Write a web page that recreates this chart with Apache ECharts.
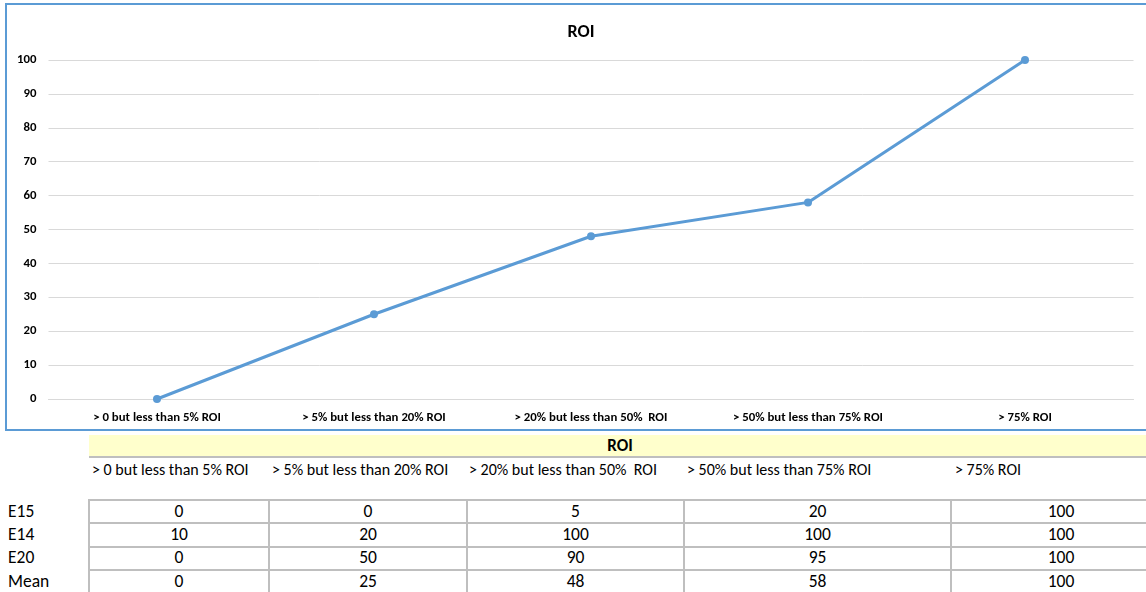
<!DOCTYPE html>
<html>
<head>
<meta charset="utf-8">
<script src="https://cdn.jsdelivr.net/npm/echarts@6/dist/echarts.min.js"></script>
<style>
  html, body { margin: 0; padding: 0; background: #fff; overflow: hidden; width: 1146px; height: 592px; }
  body { position: relative; font-family: Carlito, Lato, "Open Sans", sans-serif; color: #000; }
  #frame { position: absolute; left: 5px; top: 3px; width: 1152px; height: 428px; border: 2px solid #5b9bd5; box-sizing: border-box; }
  #chart { position: absolute; left: 7px; top: 5px; width: 1148px; height: 424px; }
  .cell { position: absolute; line-height: 1; white-space: pre; }
  #roiHead { position: absolute; left: 89px; top: 435px; width: 1070px; height: 23px; background: #ffffcc; border-bottom: 2px solid #bfbfbf; box-sizing: border-box; }
  #roiHead span { position: absolute; left: 0; width: 1062px; top: 2px; text-align: center; font-weight: bold; font-size: 17px; line-height: 1; }
  table { position: absolute; left: 0; top: 499px; width: 1171px; border-collapse: collapse; table-layout: fixed; }
  td { height: 21.3px; padding: 0; font-size: 17.5px; line-height: 1; text-align: center; border: 2px solid #bfbfbf; }
  td.name { text-align: left; padding-left: 8px; border: none; border-right: 2px solid #bfbfbf; }
</style>
</head>
<body>
<div id="frame"></div>
<div id="chart"></div>
<div id="roiHead"><span>ROI</span></div>
<div id="catRow"></div>
<table id="tbl"></table>
<script>
// ROI brackets along the x axis
const categories = [
  '> 0 but less than 5% ROI',
  '> 5% but less than 20% ROI',
  '> 20% but less than 50%  ROI',
  '> 50% but less than 75% ROI',
  '> 75% ROI'
];
// survey rows
const e15 = [0, 0, 5, 20, 100];
const e14 = [10, 20, 100, 100, 100];
const e20 = [0, 50, 90, 95, 100];
const mean = [0, 25, 48, 58, 100];
const yTicks = [0, 10, 20, 30, 40, 50, 60, 70, 80, 90, 100];

const FONT = 'Carlito, Lato, sans-serif';
const chart = echarts.init(document.getElementById('chart'), null, { renderer: 'canvas' });
chart.setOption({
  animation: false,
  title: {
    text: 'ROI', left: 'center', top: 13,
    textStyle: { fontFamily: FONT, fontSize: 18, fontWeight: 'bold', color: '#000' }
  },
  grid: { left: 41.5, right: 21.5, top: 55, bottom: 30 },
  xAxis: {
    type: 'category', data: categories, boundaryGap: true,
    axisLine: { show: true, lineStyle: { color: '#d9d9d9', width: 1 } },
    axisTick: { show: false },
    axisLabel: { interval: 0, margin: 12, fontSize: 12.8, fontWeight: 'bold', color: '#000', fontFamily: FONT }
  },
  yAxis: {
    type: 'value', min: yTicks[0], max: yTicks[yTicks.length - 1], interval: 10,
    axisLine: { show: false }, axisTick: { show: false },
    splitLine: { lineStyle: { color: '#d9d9d9', width: 1 } },
    axisLabel: { margin: 12, fontSize: 12.8, fontWeight: 'bold', color: '#000', fontFamily: FONT }
  },
  series: [{
    name: 'Mean', type: 'line', data: mean,
    symbol: 'circle', symbolSize: 8,
    lineStyle: { color: '#5b9bd5', width: 3 },
    itemStyle: { color: '#5b9bd5' }
  }]
});

// category captions above the table
const catX = [92, 272, 469, 687, 955];
const catRow = document.getElementById('catRow');
categories.forEach((c, i) => {
  const d = document.createElement('div');
  d.className = 'cell';
  d.style.left = catX[i] + 'px';
  d.style.top = '462px';
  d.style.fontSize = '16px';
  d.textContent = c;
  catRow.appendChild(d);
});

// value table
const rows = [['E15', e15], ['E14', e14], ['E20', e20], ['Mean', mean]];
const colW = [89, 180, 198, 217, 267, 220];
const tbl = document.getElementById('tbl');
const cg = document.createElement('colgroup');
colW.forEach(w => { const c = document.createElement('col'); c.style.width = w + 'px'; cg.appendChild(c); });
tbl.appendChild(cg);
rows.forEach(([name, vals]) => {
  const tr = document.createElement('tr');
  const th = document.createElement('td');
  th.className = 'name';
  th.textContent = name;
  tr.appendChild(th);
  vals.forEach(v => {
    const td = document.createElement('td');
    td.textContent = String(Math.round(v));
    tr.appendChild(td);
  });
  tbl.appendChild(tr);
});
</script>
</body>
</html>
